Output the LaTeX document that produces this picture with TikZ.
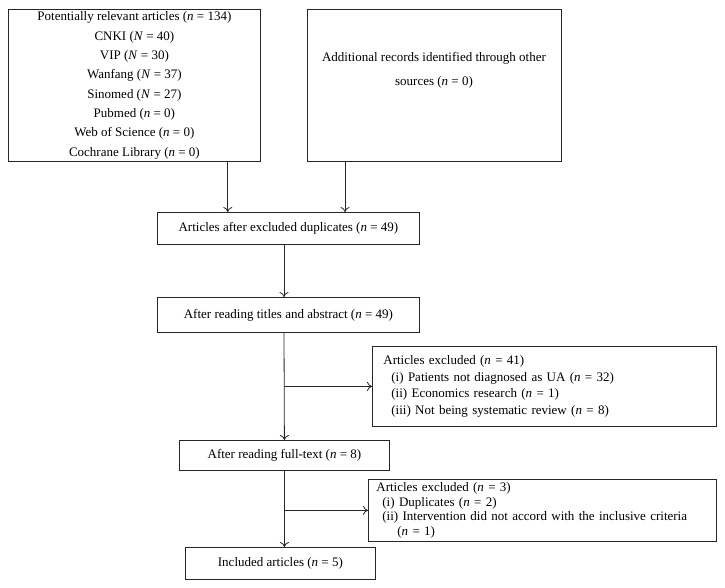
\documentclass[tikz,border=0pt]{standalone}
\usepackage{fontspec}
\setmainfont{Liberation Serif}
\usetikzlibrary{arrows.meta}
\tikzset{
  box/.style={draw=black!85, line width=0.8pt, rectangle, inner sep=0pt, anchor=north west},
  link/.style={draw=black!85, line width=0.8pt, -{To[length=5pt,width=9pt]}},
}
\newcommand{\nn}{\textit{n}}
\newcommand{\NN}{\textit{N}}

\begin{document}
\begin{tikzpicture}[x=1pt,y=-1pt,font=\fontsize{13}{19.3}\selectfont]
	\useasboundingbox (0,0) rectangle (725,588);
	%Sources
	\node [box, minimum width=252pt, minimum height=152pt, align=center] (sources) at (8,9) {Potentially relevant articles (\nn{} = 134)\\ CNKI (\NN{} = 40)\\ VIP (\NN{} = 30)\\ Wanfang (\NN{} = 37)\\ Sinomed (\NN{} = 27)\\ Pubmed (\nn{} = 0)\\ Web of Science (\nn{} = 0)\\ Cochrane Library (\nn{} = 0)};
	\node [box, minimum width=254pt, minimum height=152pt] (others) at (307,9) {};
	\node [align=center, font=\fontsize{13}{24}\selectfont] (otherstext) at (434,70) {Additional records identified through other\\ sources (\nn{} = 0)};
	%Screening
	\node [box, minimum width=262pt, minimum height=32pt] (dupl) at (157,212) {Articles after excluded duplicates (\nn{} = 49)};
	\node [box, minimum width=262pt, minimum height=35pt] (titles) at (157,297) {After reading titles and abstract (\nn{} = 49)};
	\node [box, text width=322pt, inner xsep=11pt, minimum height=80pt, align=left, font=\fontsize{13}{16.5}\selectfont] (excl1) at (372,346) {Articles excluded (\nn{} = 41)\\ \hspace*{8pt}(i) Patients not diagnosed as UA (\nn{} = 32)\\ \hspace*{8pt}(ii) Economics research (\nn{} = 1)\\ \hspace*{8pt}(iii) Not being systematic review (\nn{} = 8)};
	%Eligibility
	\node [box, minimum width=210pt, minimum height=30pt] (fulltext) at (179,440) {After reading full-text (\nn{} = 8)};
	\node [box, text width=332pt, inner xsep=8pt, minimum height=62pt, align=left, font=\fontsize{13}{14.5}\selectfont] (excl2) at (368,479) {Articles excluded (\nn{} = 3)\\ \hspace*{6pt}(i) Duplicates (\nn{} = 2)\\ \hspace*{6pt}(ii) Intervention did not accord with the inclusive criteria\\ \hspace*{21pt}(\nn{} = 1)};
	%Included
	\node [box, minimum width=190pt, minimum height=32pt] (included) at (185,547) {Included articles (\nn{} = 5)};
	%Collegamenti
	\draw [link] ([xshift=-33pt]sources.south east) -- ([xshift=-33pt]sources.south east |- dupl.north);
	\draw [link] ([xshift=38pt]others.south west) -- ([xshift=38pt]others.south west |- dupl.north);
	\draw [link] ([xshift=127pt]dupl.south west) -- ([xshift=127pt]titles.north west);
	\draw [link] ([xshift=127pt]titles.south west) -- (fulltext.north);
	\draw [link] (fulltext.north |- excl1.west) -- (excl1.west);
	\draw [link] (fulltext.south) -- (fulltext.south |- included.north);
	\draw [link] (fulltext.south |- excl2.west) -- (excl2.west);
\end{tikzpicture}
\end{document}
